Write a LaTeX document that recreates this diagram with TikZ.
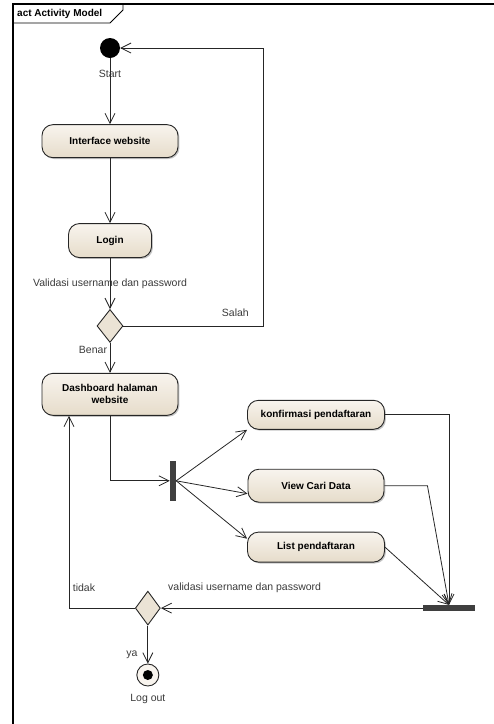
\documentclass[tikz,border=0pt]{standalone}
\usepackage{fontspec}
\setmainfont{Liberation Sans}
\usetikzlibrary{positioning,shapes.geometric,arrows.meta,shadows}
\definecolor{actfill}{HTML}{E6DCCA}
\definecolor{actlight}{HTML}{F8F4EE}
\definecolor{edge}{HTML}{262626}
\definecolor{labelgray}{HTML}{3A3A3A}
\definecolor{barfill}{HTML}{3F3F3F}
\tikzset{
  act/.style={draw=edge, line width=0.9pt, rounded corners=11pt, align=center, font=\bfseries, top color=actlight, bottom color=actfill, drop shadow={shadow xshift=1.4pt, shadow yshift=-1.4pt, fill=black!45}},
  decide/.style={draw=edge, line width=0.9pt, diamond, inner sep=0pt, minimum width=26pt, minimum height=33pt, fill=actfill!80},
  bar/.style={fill=barfill, inner sep=0pt},
  initnode/.style={circle, fill=black, minimum size=20pt, inner sep=0pt},
  endnode/.style={circle, draw=edge, line width=0.9pt, fill=actlight, minimum size=22pt, inner sep=0pt, path picture={\fill[black] (path picture bounding box.center) circle (5pt);}},
  lbl/.style={text=labelgray, inner sep=1pt},
  arrow/.style={draw=edge, line width=0.8pt, -{Straight Barb[length=10pt,width=10pt]}},
  frame/.style={draw=black, line width=1.2pt}
}

\begin{document}
\begin{tikzpicture}[x=1pt, y=-1pt, font=\fontsize{10.5}{12.5}\selectfont]
  \useasboundingbox (0,0) rectangle (494,724);
  % frame and tab
  \draw[frame] (13,724) -- (13,4) -- (494,4);
  \draw[line width=0.8pt] (13,23) -- (110,23) -- (123,10) -- (123,4);
  \node[anchor=west, inner sep=0pt, font=\bfseries] (title) at (17,14) {act Activity Model};

  % main column
  \node[initnode] (start) at (110,48) {};
  \node[lbl, below=11pt of start] (startlbl) {Start};
  \node[act, below=66pt of start, minimum width=136pt, minimum height=33pt] (iface) {Interface website};
  \node[act, below=65pt of iface, minimum width=83pt, minimum height=34pt] (login) {Login};
  \node[decide, below=51pt of login] (cek) {};
  \node[act, below=30pt of cek, minimum width=136pt, minimum height=42pt] (dash) {Dashboard halaman\\website};

  % fork and parallel actions
  \node[bar, minimum width=6pt, minimum height=40pt] (fork) at ([xshift=63pt,yshift=-65pt]dash.south) {};
  \node[act, minimum width=137pt, minimum height=29pt] (konf) at ([xshift=143pt,yshift=66pt]fork.center) {konfirmasi pendaftaran};
  \node[act, below=39pt of konf, minimum width=136pt, minimum height=33pt] (view) {View Cari Data};
  \node[act, below=29pt of view, minimum width=137pt, minimum height=30pt] (list) {List pendaftaran};
  \node[bar, minimum width=52pt, minimum height=6pt] (join) at ([xshift=133pt,yshift=-61pt]list.center) {};

  % logout decision
  \node[decide, left=262pt of join, minimum width=25pt, minimum height=34pt] (cek2) {};
  \node[endnode, below=38pt of cek2] (stop) {};
  \node[lbl, below=7pt of stop] (stoplbl) {Log out};

  \draw[arrow] (start) -- (iface);
  \draw[arrow] (iface) -- (login);
  \draw[arrow] (login) -- node[lbl]{Validasi username dan password} (cek);
  \draw[arrow] (cek) -- node[lbl, pos=0.25, xshift=-17pt]{Benar} (dash);
  \draw[arrow] (cek.east) -| node[lbl, pos=0.5, anchor=south east, xshift=-13pt, yshift=8pt]{Salah} ([xshift=143pt]start.east) -- (start.east);
  \draw[arrow] (dash.south) |- (fork.west);
  \draw[arrow] (fork.east) -- (konf.south west);
  \draw[arrow] (fork.east) -- ([yshift=-8pt]view.west);
  \draw[arrow] (fork.east) -- ([yshift=-7pt]list.north west);
  \draw[arrow] (konf.east) -| (join.north);
  \draw[arrow] (view.east) -- ([xshift=43pt]view.east) -- (join.north);
  \draw[arrow] (list.east) -- (join.north);
  \draw[arrow] (join.west) -- node[lbl, pos=0.68, yshift=20pt]{validasi username dan password} (cek2.east);
  \draw[arrow] (cek2.west) -| node[lbl, pos=0.5, xshift=15pt, yshift=20pt]{tidak} ([xshift=-41pt]dash.south);
  \draw[arrow] (cek2) -- node[lbl, pos=0.78, xshift=-16pt]{ya} (stop);
\end{tikzpicture}
\end{document}
